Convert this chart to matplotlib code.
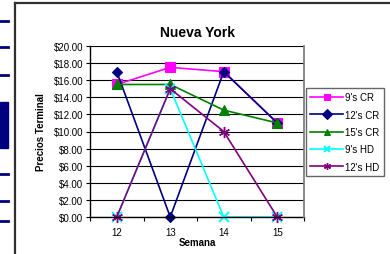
import matplotlib.pyplot as plt
from matplotlib.lines import Line2D
from matplotlib.patches import Rectangle
from matplotlib.ticker import FuncFormatter

plt.rcParams['font.family'] = ['Liberation Sans', 'DejaVu Sans']

weeks = ["12", "13", "14", "15"]
series = {
    "9's CR": [15.5, 17.5, 17, 11],
    "12's CR": [17, 0, 17, 11],
    "15's CR": [15.5, 15.5, 12.5, 11],
    "9's HD": [0, 15, 0, 0],
    "12's HD": [0, 15, 10, 0],
}
colors = ["#FF00FF", "#000080", "#008000", "#00FFFF", "#800080"]
markers = ["s", "D", "^", "x", (6, 2, 0)]
msizes = [7, 5.5, 7, 7, 8]
mews = [0.8, 0.8, 0.8, 1.4, 1.0]

W, H = 390, 255
fig = plt.figure(figsize=(W / 100, H / 100), dpi=100)
ax = fig.add_axes([90 / W, 1 - 218 / H, (304 - 90) / W, (218 - 47) / H])

x = list(range(len(weeks)))
for (name, vals), c, m, ms, mw in zip(series.items(), colors, markers, msizes, mews):
    ax.plot(x, vals, color=c, lw=1.2, marker=m, ms=ms, mew=mw,
            mec=c, mfc=c, label=name, clip_on=False)

ax.set_xlim(-0.5, 3.5)
ax.set_ylim(0, 20)
ax.set_yticks(range(0, 21, 2))
ax.yaxis.set_major_formatter(FuncFormatter(lambda v, p: f"${v:.2f}"))
ax.set_xticks(x)
ax.set_xticklabels(weeks)
ax.set_xticks([-0.5, 0.5, 1.5, 2.5, 3.5], minor=True)
ax.tick_params(axis="x", which="major", length=0, pad=7, labelsize=7)
ax.tick_params(axis="x", which="minor", length=3, direction="out", width=0.8)
ax.tick_params(axis="y", length=3, width=0.8, labelsize=7, pad=2)
ax.grid(axis="y", color="black", lw=0.8)
ax.set_axisbelow(True)
ax.spines["top"].set_visible(False)
ax.spines["right"].set_color("#808080")
ax.spines["right"].set_linewidth(1.3)
ax.spines["right"].set_zorder(3)
ax.spines["left"].set_linewidth(1.0)
ax.spines["bottom"].set_linewidth(1.0)

ax.set_title("Nueva York", fontsize=10, fontweight="bold", pad=7)
ax.set_xlabel("Semana", fontsize=7, fontweight="bold", labelpad=0)
ax.set_ylabel("Precios Terminal", fontsize=7, fontweight="bold", labelpad=5)

leg = ax.legend(loc="upper left", bbox_to_anchor=(306 / W, 1 - 89 / H), bbox_transform=fig.transFigure,
                fontsize=7, frameon=True, fancybox=False, handlelength=3.4, handletextpad=0.2,
                borderpad=0.45, labelspacing=0.75, borderaxespad=0)
leg.get_frame().set_edgecolor("#404040")
leg.get_frame().set_linewidth(1.0)
for h in leg.legend_handles:
    h.set_markersize(5)

# outer chart frame
fig.add_artist(Line2D([15.5 / W, 15.5 / W], [0, 1 - 4 / H], color="#303030", lw=1.6))
fig.add_artist(Line2D([15.5 / W, 1], [1 - 4 / H, 1 - 4 / H], color="#303030", lw=1.6))

# navy marks at the left edge
for yy in [22, 48, 76, 175, 202, 222]:
    fig.add_artist(Line2D([0, 8 / W], [1 - yy / H, 1 - yy / H], color="#000080", lw=2))
fig.add_artist(Rectangle((0, 1 - 149 / H), 8 / W, 46 / H, transform=fig.transFigure, color="#000080"))

fig.savefig("out.png", dpi=100)
